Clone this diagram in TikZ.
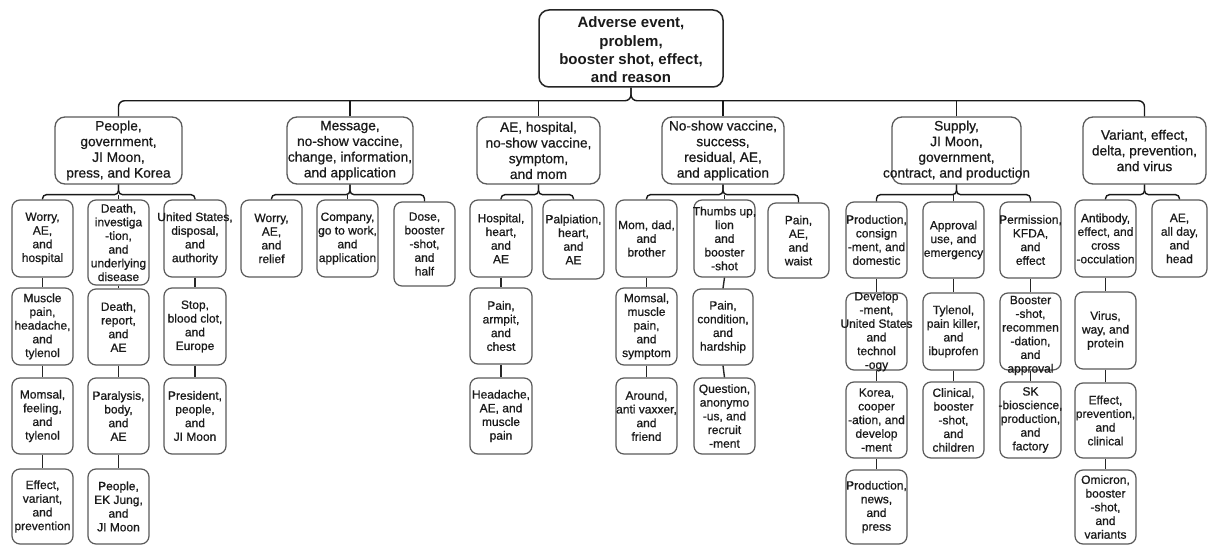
\documentclass[tikz,border=0pt]{standalone}
\usepackage{fontspec}
\setmainfont{Liberation Sans}
\newfontfamily\heavyfont{Liberation Sans}[FakeBold=0.7]
\definecolor{boxgray}{HTML}{5A5A5A}
\definecolor{textc}{HTML}{1A1A1A}
\tikzset{
  box/.style={draw=boxgray, line width=1.2pt, rounded corners=8pt, fill=white, inner sep=0pt},
  rootbox/.style={draw=black!85, line width=1.5pt, rounded corners=10pt, fill=white, inner sep=0pt},
  midbox/.style={draw=boxgray, line width=1.3pt, rounded corners=10pt, fill=white, inner sep=0pt},
  txt/.style={align=center, font=\heavyfont\fontsize{12}{13.7}\selectfont, text=textc, inner sep=0pt},
  midtxt/.style={align=center, font=\heavyfont\fontsize{13.7}{15.7}\selectfont, text=textc, inner sep=0pt},
  roottxt/.style={align=center, font=\fontsize{15}{18.3}\selectfont\bfseries, text=textc, inner sep=0pt},
  conn/.style={line width=1.4pt, draw=black!90, rounded corners=6pt},
  conns/.style={line width=1.4pt, draw=black!90, rounded corners=4pt},
  chain/.style={line width=1.4pt, draw=black!85},
}
\newcommand\leafbox[7][0]{%
  \node[box, minimum width=#5pt, minimum height=#6pt] (#2) at (#3,#4) {};
  \node[txt] (#2t) at ([yshift=#1pt]#2.center) {#7};}
\newcommand\midnode[5]{%
  \node[midbox, minimum width=#4pt, minimum height=67pt] (#1) at (#2,#3) {};
  \node[midtxt] (#1t) at (#1.center) {#5};}
\begin{document}
\begin{tikzpicture}[x=1pt,y=-1pt]
\useasboundingbox[fill=white] (0,0) rectangle (1208,545);

% root
\node[rootbox, minimum width=184pt, minimum height=77pt] (root) at (631,48.5) {};
\node[roottxt] (roott) at ([yshift=-1.5pt]root.center) {Adverse event,\\problem,\\booster shot, effect,\\and reason};

% level 1
\midnode{A}{118.5}{150.5}{127}{People,\\government,\\JI Moon,\\press, and Korea}
\midnode{B}{350}{150.5}{126}{Message,\\no-show vaccine,\\change, information,\\and application}
\midnode{C}{538.5}{150.5}{123}{AE, hospital,\\no-show vaccine,\\symptom,\\and mom}
\midnode{D}{723}{150.5}{122}{No-show vaccine,\\success,\\residual, AE,\\and application}
\midnode{E}{956.5}{150.5}{129}{Supply,\\JI Moon,\\government,\\contract, and production}
\midnode{F}{1144.5}{150.5}{123}{Variant, effect,\\delta, prevention,\\and virus}

% level 2 : A
\leafbox{A1}{42.5}{238.5}{61}{77}{Worry,\\AE,\\and\\hospital}
\leafbox{A2}{118.5}{242.5}{61}{85}{Death,\\investiga\\-tion,\\and\\underlying\\disease}
\leafbox{A3}{195}{238.5}{62}{77}{United States,\\disposal,\\and\\authority}
\leafbox{A1b}{42.5}{326.5}{61}{77}{Muscle\\pain,\\headache,\\and\\tylenol}
\leafbox{A2b}{118.5}{327}{61}{76}{Death,\\report,\\and\\AE}
\leafbox{A3b}{195}{326.5}{62}{77}{Stop,\\blood clot,\\and\\Europe}
\leafbox{A1c}{42.5}{416}{61}{76}{Momsal,\\feeling,\\and\\tylenol}
\leafbox{A2c}{118.5}{416}{61}{76}{Paralysis,\\body,\\and\\AE}
\leafbox{A3c}{195}{416}{62}{76}{President,\\people,\\and\\JI Moon}
\leafbox{A1d}{42.5}{506.5}{61}{75}{Effect,\\variant,\\and\\prevention}
\leafbox{A2d}{118.5}{506.5}{61}{75}{People,\\EK Jung,\\and\\JI Moon}

% B
\leafbox{B1}{271.5}{238.5}{61}{77}{Worry,\\AE,\\and\\relief}
\leafbox{B2}{347.5}{238.5}{61}{77}{Company,\\go to work,\\and\\application}
\leafbox{B3}{424.5}{244}{61}{84}{Dose,\\booster\\-shot,\\and\\half}

% C
\leafbox{C1}{501}{238.5}{62}{77}{Hospital,\\heart,\\and\\AE}
\leafbox{C2}{573.5}{239.5}{61}{79}{Palpiation,\\heart,\\and\\AE}
\leafbox{C1b}{501}{326}{62}{76}{Pain,\\armpit,\\and\\chest}
\leafbox{C1c}{501}{416}{62}{76}{Headache,\\AE, and\\muscle\\pain}

% D
\leafbox{D1}{646.5}{238.5}{61}{77}{Mom, dad,\\and\\brother}
\leafbox{D2}{724.5}{238.5}{61}{77}{Thumbs up,\\lion\\and\\booster\\-shot}
\leafbox{D3}{798.5}{240.5}{61}{75}{Pain,\\AE,\\and\\waist}
\leafbox{D1b}{646.5}{326.5}{61}{77}{Momsal,\\muscle\\pain,\\and\\symptom}
\leafbox{D2b}{723}{327}{60}{76}{Pain,\\condition,\\and\\hardship}
\leafbox{D1c}{646.5}{416}{61}{76}{Around,\\anti vaxxer,\\and\\friend}
\leafbox{D2c}{724.5}{416}{61}{76}{Question,\\anonymo\\-us, and\\recruit\\-ment}

% E
\leafbox{E1}{876.5}{240}{61}{76}{Production,\\consign\\-ment, and\\domestic}
\leafbox{E2}{953.5}{240}{61}{76}{Approval\\use, and\\emergency}
\leafbox{E3}{1030.5}{240}{61}{76}{Permission,\\KFDA,\\and\\effect}
\leafbox{E1b}{876.5}{331.5}{61}{77}{Develop\\-ment,\\United States\\and\\technol\\-ogy}
\leafbox{E2b}{953.5}{331.5}{61}{77}{Tylenol,\\pain killer,\\and\\ibuprofen}
\leafbox[-4]{E3b}{1030.5}{331.5}{61}{77}{Booster\\-shot,\\recommen\\-dation,\\and\\approval}
\leafbox{E1c}{876.5}{420}{61}{76}{Korea,\\cooper\\-ation, and\\develop\\-ment}
\leafbox{E2c}{953.5}{420}{61}{76}{Clinical,\\booster\\-shot,\\and\\children}
\leafbox{E3c}{1030.5}{420}{61}{76}{SK\\-bioscience,\\production,\\and\\factory}
\leafbox{E1d}{876.5}{507}{61}{74}{Production,\\news,\\and\\press}

% F
\leafbox{F1}{1105.5}{238.5}{61}{77}{Antibody,\\effect, and\\cross\\-occulation}
\leafbox{F2}{1179.5}{238.5}{55}{77}{AE,\\all day,\\and\\head}
\leafbox{F1b}{1105.5}{330.5}{61}{77}{Virus,\\way, and\\protein}
\leafbox{F1c}{1105.5}{420.5}{61}{75}{Effect,\\prevention,\\and\\clinical}
\leafbox{F1d}{1105.5}{507}{61}{74}{Omicron,\\booster\\-shot,\\and\\variants}

% main brace
\path (root.south) ++(0,13) coordinate (bus0);
\draw[conn] (root.south) -- (bus0) -| (A.north);
\draw[conn] (root.south) -- (bus0) -| (F.north);
\foreach \n in {B,C,D,E} \draw[conn] (\n.north) -- (\n.north |- bus0);

% level-2 braces
\foreach \p/\l/\r in {A/A1/A3, B/B1/B3, C/C1/C2, D/D1/D3, E/E1/E3, F/F1/F2} {
  \path (\p.south) ++(0,10) coordinate (\p bus);
  \draw[conns] (\p.south) -- (\p bus) -| (\l.north);
  \draw[conns] (\p.south) -- (\p bus) -| (\r.north);
}
\foreach \p/\m in {A/A2, B/B2, D/D2, E/E2} \draw[chain] (\m.north) -- (\m.north |- \p bus);

% chains
\foreach \a/\b in {A1/A1b, A1b/A1c, A1c/A1d, A2/A2b, A2b/A2c, A2c/A2d, A3/A3b, A3b/A3c,
  C1/C1b, C1b/C1c, D1/D1b, D1b/D1c, D2/D2b, D2b/D2c,
  E1/E1b, E1b/E1c, E1c/E1d, E2/E2b, E2b/E2c, E3/E3b, E3b/E3c,
  F1/F1b, F1b/F1c, F1c/F1d}
  \draw[chain] (\a.south) -- (\b.north);
\end{tikzpicture}
\end{document}
